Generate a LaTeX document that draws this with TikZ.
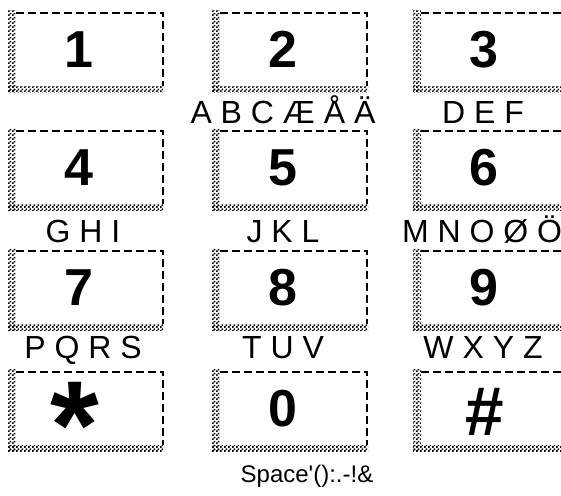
\documentclass[tikz,border=0pt]{standalone}
\usepackage{fontspec}
\setmainfont{Liberation Sans}
\usetikzlibrary{patterns}
\pgfdeclarepatternformonly{fineck}{\pgfpointorigin}{\pgfqpoint{3pt}{3pt}}{\pgfqpoint{3pt}{3pt}}{%
  \pgfpathrectangle{\pgfpointorigin}{\pgfqpoint{1.5pt}{1.5pt}}%
  \pgfpathrectangle{\pgfqpoint{1.5pt}{1.5pt}}{\pgfqpoint{1.5pt}{1.5pt}}%
  \pgfusepath{fill}}
\begin{document}
\begin{tikzpicture}[x=0.75pt,y=-0.75pt,
  shadowband/.style={pattern=fineck},
  face/.style={draw=none,fill=white,inner sep=0pt,minimum width=110.25pt,minimum height=54.75pt},
  keyedge/.style={line width=1.5pt,dash pattern=on 6pt off 3pt},
  digit/.style={anchor=base,inner sep=0pt,font=\bfseries\fontsize{39}{39}\selectfont},
  lbl/.style={anchor=base,inner sep=0pt,font=\fontsize{24}{24}\selectfont}]
\useasboundingbox (0,0) rectangle (561,496);
\clip (0,0) rectangle (561,496);
\fill[white] (0,0) rectangle (561,496);
\foreach \L/\T/\n/\s in {8/10/1/1,212/10/2/2,413/10/3/3,8/128/4/4,212/128/5/5,413/128/6/6,8/248/7/7,212/248/8/8,413/248/9/9,8/369/s/{},212/369/0/0,413/369/h/{}}{
  \fill[shadowband] (\L,\T) rectangle ++(8,82);
  \fill[shadowband] (\L,\T+76) rectangle ++(156,6);
  \node[face] (k\n) at (\L+81.5,\T+39.5) {};
  \draw[keyedge] (k\n.north west) -- (k\n.north east) -- (k\n.south east);
  \node[digit] (d\n) at (\L+71,\T+57) {\s};
}
\node[anchor=base,inner sep=0pt,font=\bfseries\fontsize{94}{94}\selectfont] (dstar) at (75,468) {*};
\node[anchor=base,inner sep=0pt,font=\bfseries\fontsize{52}{52}\selectfont] (dhash) at (485,435) {\#};
\node[lbl] (l2) at (283,123) {A B C Æ Å Ä};
\node[lbl] (l3) at (483,123) {D E F};
\node[lbl] (l4) at (83,242) {G H I};
\node[lbl] (l5) at (283,242) {J K L};
\node[lbl] (l6) at (482,242) {M N O Ø Ö};
\node[lbl] (l7) at (83,358) {P Q R S};
\node[lbl] (l8) at (283,358) {T U V};
\node[lbl] (l9) at (483,358) {W X Y Z};
\node[lbl,font=\fontsize{18}{18}\selectfont] (l0) at (307,482) {Space\textquotesingle():.-!\&};
\end{tikzpicture}
\end{document}
